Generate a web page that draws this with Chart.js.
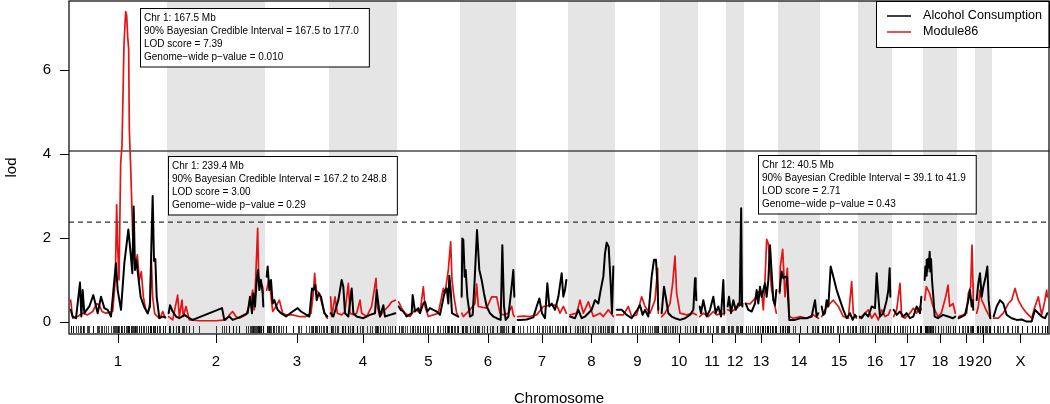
<!DOCTYPE html>
<html>
<head>
<meta charset="utf-8">
<script src="https://cdn.jsdelivr.net/npm/chart.js@4.4.1/dist/chart.umd.min.js"></script>
<style>
  html, body { margin: 0; padding: 0; background: #fff; }
  canvas { display: block; }
</style>
</head>
<body>
<canvas id="lodChart" width="1050" height="404"></canvas>
<script>
const chromosomes = ['1','2','3','4','5','6','7','8','9','10','11','12','13','14','15','16','17','18','19','20','X'];
// length of each chromosome in Mb, gap between chromosomes
const chrLengths = [284,284,182,194,179,158,146,131,125,104,74,44,92,116,104,92,83,92,44,41,161];
const chrGap = 10;

// [position in Mb, LOD] per chromosome
const alcoholLod = [
  [[0,0.29],[6,0.13],[16,0.09],[28,0.94],[32,0.13],[36,0.76],[41,0.21],[48,0.29],[56,0.37],[68,0.64],[81,0.21],[91,0.60],[101,0.33],[111,0.29],[121,0.13],[131,1.0],[136,1.40],[141,0.76],[151,0.29],[161,1.40],[173,2.2],[180,1.63],[185,1.16],[189,2.75],[193,1.24],[197,1.48],[204,1.0],[210,0.6],[220,0.37],[231,0.21],[238,0.37],[242,1.79],[246,3.0],[250,1.45],[254,1.5],[258,0.6],[266,0.09],[276,0.13],[284,0.11]],
  [[0,0.21],[4,0.40],[12,0.25],[22,0.13],[32,0.09],[47,0.17],[62,0.09],[72,0.05],[160,0.33],[167,0.05],[182,0.13],[192,0.05],[212,0.11],[237,0.21],[244,0.60],[250,0.21],[254,0.68],[259,0.37],[264,1.0],[268,1.24],[272,0.76],[277,1.0],[282,0.68],[284,0.37]],
  [[0,1.08],[3,1.32],[8,0.76],[13,1.0],[18,0.44],[23,0.52],[33,0.29],[43,0.21],[58,0.13],[78,0.25],[93,0.33],[103,0.25],[128,0.13],[136,0.80],[140,0.76],[146,0.88],[150,0.52],[156,0.68],[163,0.60],[173,0.21],[182,0.13]],
  [[0,0.21],[8,0.13],[23,0.52],[33,1.0],[38,0.84],[43,0.21],[53,0.13],[63,0.80],[68,0.21],[78,0.13],[98,0.09],[118,0.17],[133,0.21],[138,0.76],[143,0.44],[148,0.13],[158,0.40],[163,0.13],[178,0.17],[194,0.21]],
  [[0,0.37],[6,0.29],[14,0.25],[24,0.13],[39,0.21],[42,0.64],[49,0.25],[59,0.33],[64,0.21],[74,0.44],[79,0.48],[86,0.25],[94,0.33],[104,0.29],[114,0.25],[124,0.17],[139,0.76],[144,0.80],[149,0.44],[152,1.1],[156,0.76],[160,0.21],[169,0.17],[179,0.13]],
  [[0,0.6],[2,1.99],[5,1.95],[9,1.08],[12,1.24],[17,0.60],[25,0.13],[33,0.17],[39,1.0],[46,2.19],[53,1.24],[60,1.0],[67,0.68],[75,0.37],[85,0.21],[95,0.13],[105,0.09],[117,0.05],[122,1.83],[127,0.37],[132,0.05],[140,0.13],[150,0.84],[155,1.24],[158,0.6]],
  [[0,0.05],[7,0.05],[27,0.06],[47,0.11],[57,0.37],[65,0.56],[73,0.21],[82,0.09],[89,0.92],[95,0.37],[102,0.44],[112,0.29],[122,0.60],[132,1.16],[137,0.60],[142,0.76],[146,1.0]],
  [[1,0.13],[16,0.09],[26,0.29],[36,0.09],[46,0.13],[56,0.21],[66,0.29],[76,0.52],[86,0.44],[93,0.76],[101,1.08],[106,1.63],[111,1.89],[117,1.79],[123,0.92],[127,0.2],[131,1.32]],
  [[0,0.29],[15,0.29],[30,0.17],[45,0.09],[55,0.21],[62,0.29],[70,0.40],[78,0.17],[85,0.29],[95,0.13],[105,1.08],[112,1.48],[118,1.48],[122,0.92],[125,0.29]],
  [[0,0.21],[7,0.84],[13,0.56],[20,0.21],[30,0.13],[40,0.09],[55,0.05],[70,0.09],[85,0.17],[95,0.29],[100,1.04],[102,0.84],[104,0.52]],
  [[0,0.37],[4,0.21],[11,0.52],[21,0.13],[31,0.29],[41,0.60],[48,0.21],[56,0.37],[64,0.13],[71,1.0],[74,0.21]],
  [[0,0.37],[4,0.60],[10,0.21],[17,0.52],[24,0.29],[32,0.44],[36,0.40],[40.5,2.71],[43,0.44],[44,0.37]],
  [[0,0.44],[8,0.29],[18,0.25],[28,0.44],[33,0.76],[38,0.44],[43,0.84],[48,0.60],[53,0.76],[58,0.92],[63,0.60],[68,1.0],[73,1.83],[78,1.16],[83,0.52],[88,0.40],[92,0.76]],
  [[0,0.72],[1,0.84],[6,1.20],[11,1.04],[16,1.08],[21,1.08],[24,0.76],[29,0.05],[46,0.05],[61,0.09],[81,0.09],[96,0.13],[106,0.52],[111,0.13],[116,0.21]],
  [[0,0.37],[5,0.17],[10,0.21],[15,0.52],[20,0.37],[27,1.32],[35,1.08],[45,0.76],[55,0.52],[65,0.29],[75,0.09],[85,0.21],[93,0.05],[100,0.17],[104,0.13]],
  [[0,0.13],[6,0.09],[16,0.21],[26,0.13],[36,0.37],[46,0.33],[51,1.16],[56,0.60],[61,0.13],[71,0.21],[81,0.52],[86,0.76],[90,1.28],[92,0.6]],
  [[0,0.29],[9,0.17],[19,0.25],[29,0.13],[39,0.21],[49,0.09],[59,0.13],[69,0.37],[79,0.21],[83,0.6]],
  [[0,1.0],[2,1.32],[4,1.1],[6,1.48],[8,1.2],[10,1.5],[12,1.3],[15,1.67],[17,1.2],[19,1.5],[22,1.0],[26,0.6],[30,0.13],[40,0.09],[55,0.17],[70,0.13],[85,0.09],[92,0.13]],
  [[0,0.09],[9,0.13],[19,0.17],[29,0.52],[34,0.76],[39,0.37],[42,0.52],[44,0.29]],
  [[0,0.52],[5,0.92],[10,1.16],[15,0.60],[20,0.84],[26,1.04],[32,1.32],[36,0.52],[41,0.09]],
  [[0,0.13],[9,0.37],[19,0.52],[29,0.44],[39,0.17],[54,0.09],[69,0.05],[84,0.06],[99,0.01],[114,0.01],[124,0.29],[134,0.21],[144,0.13],[154,0.09],[161,0.21]]
];

const moduleLod = [
  [[0,0.52],[6,0.09],[21,0.13],[36,0.21],[51,0.17],[66,0.25],[78,0.44],[86,0.40],[94,0.25],[106,0.21],[126,0.25],[134,1.0],[138,2.79],[141,1.79],[145,1.0],[150,3.78],[154,4.2],[160,6.6],[165,7.39],[168,7.3],[171,6.8],[174,6.5],[176,4.57],[180,3.7],[186,2.1],[193,1.3],[200,1.6],[206,1.0],[212,1.2],[218,0.6],[225,0.3],[232,0.2],[238,0.5],[242,1.5],[246,0.6],[252,0.2],[260,0.13],[268,0.09],[276,0.25],[284,0.1]],
  [[0,0.13],[12,0.05],[27,0.64],[32,0.13],[40,0.52],[44,0.13],[52,0.37],[62,0.05],[92,0.03],[142,0.03],[172,0.05],[182,0.17],[192,0.25],[202,0.13],[212,0.09],[232,0.17],[247,0.52],[252,0.76],[257,0.29],[262,1.24],[267,2.23],[270,1.08],[274,1.0],[278,0.9],[282,0.84],[284,0.68]],
  [[0,0.76],[6,1.0],[10,0.84],[18,0.25],[28,0.37],[38,0.52],[48,0.21],[58,0.17],[78,0.17],[98,0.13],[118,0.13],[133,0.21],[140,0.68],[144,1.16],[148,0.76],[158,0.68],[168,0.37],[178,0.13],[182,0.09]],
  [[0,0.60],[3,0.13],[13,0.60],[20,0.21],[33,0.17],[43,0.25],[53,0.92],[58,0.21],[68,0.17],[78,0.21],[88,0.52],[93,0.21],[108,0.13],[123,0.37],[136,1.04],[140,0.37],[148,0.13],[158,0.25],[173,0.37],[183,0.48],[194,0.52]],
  [[0,0.48],[9,0.33],[19,0.21],[34,0.13],[44,0.25],[54,0.29],[64,0.21],[74,0.84],[79,0.37],[89,0.13],[104,0.17],[119,0.21],[134,0.80],[139,0.68],[149,1.24],[156,1.91],[160,1.0],[166,0.60],[174,0.21],[179,0.13]],
  [[0,0.21],[5,0.13],[25,0.29],[40,0.44],[45,0.9],[50,0.37],[75,0.33],[90,0.60],[105,0.60],[115,0.21],[125,0.17],[140,0.21],[150,0.37],[155,0.17],[158,0.13]],
  [[0,0.13],[17,0.14],[37,0.13],[57,0.17],[77,0.37],[97,0.40],[117,0.40],[127,0.21],[137,0.37],[146,0.21]],
  [[1,0.17],[21,0.21],[31,0.52],[41,0.21],[56,0.48],[71,0.13],[91,0.21],[101,0.13],[116,0.29],[131,0.13]],
  [[0,0.17],[20,0.17],[35,0.37],[45,0.13],[60,0.17],[75,0.60],[85,0.37],[100,0.21],[115,0.52],[123,1.28],[125,0.21]],
  [[0,0.13],[10,0.21],[25,0.44],[33,0.92],[40,1.57],[45,0.68],[55,0.21],[75,0.17],[95,0.21],[104,0.17]],
  [[0,0.13],[11,0.21],[26,0.13],[41,0.25],[51,0.17],[66,0.21],[74,0.17]],
  [[0,0.29],[12,0.25],[27,0.33],[37,0.40],[44,0.44]],
  [[0,0.44],[13,0.43],[28,0.56],[38,0.72],[48,0.72],[53,0.29],[58,1.0],[63,1.97],[68,1.87],[73,1.24],[78,0.76],[88,0.37],[92,0.21]],
  [[0,0.68],[2,1.32],[9,1.73],[16,0.60],[23,1.28],[29,0.13],[41,0.09],[61,0.13],[81,0.09],[101,0.17],[116,0.09]],
  [[0,0.13],[10,0.29],[25,0.44],[35,0.52],[50,0.37],[65,0.13],[80,0.09],[90,0.96],[95,0.21],[104,0.09]],
  [[0,0.09],[11,0.17],[26,0.29],[36,0.09],[46,0.21],[56,0.05],[66,0.29],[76,0.13],[86,0.17],[92,0.29]],
  [[0,0.13],[9,0.29],[19,0.92],[24,0.13],[34,0.09],[49,0.21],[59,0.33],[69,0.21],[79,0.37],[83,0.29]],
  [[0,0.52],[5,0.84],[15,0.68],[25,0.37],[40,0.13],[50,0.21],[63,0.60],[70,0.88],[75,0.37],[85,0.44],[92,0.21]],
  [[0,0.13],[14,0.17],[24,0.21],[29,0.68],[36,0.84],[40,1.83],[43,0.92],[44,0.37]],
  [[0,0.21],[5,0.37],[10,0.76],[15,0.52],[20,0.44],[28,0.29],[36,0.17],[41,0.09]],
  [[0,0.09],[14,0.09],[29,0.21],[44,0.44],[54,0.52],[64,0.80],[74,0.52],[84,0.37],[99,0.21],[114,0.09],[124,0.37],[134,0.60],[144,0.17],[154,0.52],[159,0.76],[161,0.60]]
];

const seriesNames = ['Alcohol Consumption', 'Module86'];
const thresholds = [4.07, 2.38];   // solid, dashed
const yTicks = [0, 2, 4, 6];

const peakNotes = [
  ['Chr 1: 167.5 Mb', '90% Bayesian Credible Interval = 167.5 to 177.0', 'LOD score = 7.39', 'Genome\u2212wide p\u2212value = 0.010'],
  ['Chr 1: 239.4 Mb', '90% Bayesian Credible Interval = 167.2 to 248.8', 'LOD score = 3.00', 'Genome\u2212wide p\u2212value = 0.29'],
  ['Chr 12: 40.5 Mb', '90% Bayesian Credible Interval = 39.1 to 41.9', 'LOD score = 2.71', 'Genome\u2212wide p\u2212value = 0.43']
];
// where each note box sits (canvas px)
const noteBoxes = [{ left: 140, top: 8 }, { left: 168, top: 156 }, { left: 758, top: 155 }];

const FONT = "'Liberation Sans', Arial, Helvetica, sans-serif";

// cumulative genome positions
const chrStart = [], chrMid = [], bandStart = [];
let cum = 0;
chrLengths.forEach(len => {
  bandStart.push(cum);
  chrStart.push(cum + chrGap / 2);
  chrMid.push(cum + (len + chrGap) / 2);
  cum += len + chrGap;
});
const genomeLength = cum;

function toPoints(series) {
  const pts = [];
  series.forEach((chr, i) => {
    chr.forEach(p => pts.push({ x: chrStart[i] + p[0], y: p[1] }));
    pts.push({ x: chrStart[i] + chrLengths[i] + chrGap / 2, y: null });  // break line between chromosomes
  });
  return pts;
}

// marker positions for the rug
const rugPositions = [];
[alcoholLod, moduleLod].forEach(series => {
  series.forEach((chr, i) => chr.forEach(p => rugPositions.push(chrStart[i] + p[0])));
});

const backgroundPlugin = {
  id: 'background',
  beforeDatasetsDraw(chart) {
    const { ctx, chartArea, scales } = chart;
    const x = scales.x, y = scales.y;
    ctx.save();
    // alternate chromosome bands
    ctx.fillStyle = '#e5e5e5';
    chrLengths.forEach((len, i) => {
      if (i % 2 === 1) {
        const x0 = x.getPixelForValue(bandStart[i]);
        const x1 = x.getPixelForValue(bandStart[i] + len + chrGap);
        ctx.fillRect(x0, chartArea.top, x1 - x0, chartArea.bottom - chartArea.top);
      }
    });
    // rug of markers
    ctx.strokeStyle = 'rgba(0,0,0,0.75)';
    ctx.lineWidth = 1;
    ctx.beginPath();
    rugPositions.forEach(v => {
      const px = Math.round(x.getPixelForValue(v)) + 0.5;
      ctx.moveTo(px, chartArea.bottom - 8);
      ctx.lineTo(px, chartArea.bottom - 1);
    });
    ctx.stroke();
    // significance thresholds
    thresholds.forEach((t, i) => {
      const py = y.getPixelForValue(t);
      ctx.beginPath();
      ctx.strokeStyle = i === 0 ? '#4a4a4a' : '#333';
      ctx.lineWidth = i === 0 ? 1.6 : 1.3;
      ctx.setLineDash(i === 0 ? [] : [5, 4]);
      ctx.moveTo(chartArea.left, py);
      ctx.lineTo(chartArea.right, py);
      ctx.stroke();
    });
    ctx.restore();
  }
};

const overlayPlugin = {
  id: 'overlay',
  afterDraw(chart) {
    const { ctx, chartArea } = chart;
    ctx.save();
    // peak notes
    ctx.font = '10px ' + FONT;
    ctx.textBaseline = 'middle';
    peakNotes.forEach((lines, i) => {
      const b = noteBoxes[i];
      const w = Math.max(...lines.map(s => ctx.measureText(s).width)) + 14;
      const h = 58.5;
      ctx.fillStyle = '#fff';
      ctx.fillRect(b.left, b.top, w, h);
      ctx.strokeStyle = '#000';
      ctx.lineWidth = 1;
      ctx.strokeRect(b.left + 0.5, b.top + 0.5, w, h);
      ctx.fillStyle = '#000';
      lines.forEach((s, j) => ctx.fillText(s, b.left + 4, b.top + 10 + j * 13));
    });
    // legend
    ctx.font = '12.6px ' + FONT;
    const ds = chart.data.datasets;
    const lw = Math.max(...ds.map(d => ctx.measureText(d.label).width)) + 54;
    const lh = 46;
    const lx = chartArea.right - lw, ly = chartArea.top;
    ctx.fillStyle = '#fff';
    ctx.fillRect(lx, ly, lw, lh);
    ctx.strokeStyle = '#000';
    ctx.lineWidth = 1;
    ctx.strokeRect(lx + 0.5, ly + 0.5, lw, lh);
    ds.forEach((d, i) => {
      const yy = ly + 15 + i * 16;
      ctx.beginPath();
      ctx.strokeStyle = d.borderColor;
      ctx.lineWidth = 1.5;
      ctx.moveTo(lx + 11, yy);
      ctx.lineTo(lx + 35, yy);
      ctx.stroke();
      ctx.fillStyle = '#000';
      ctx.fillText(d.label, lx + 47, yy);
    });
    // plot frame
    ctx.strokeStyle = '#000';
    ctx.lineWidth = 1.2;
    ctx.strokeRect(chartArea.left, chartArea.top, chartArea.right - chartArea.left, chartArea.bottom - chartArea.top);
    ctx.restore();
  }
};

const axisFont = { family: FONT, size: 15 };

new Chart(document.getElementById('lodChart'), {
  type: 'line',
  data: {
    datasets: [
      { label: seriesNames[0], data: toPoints(alcoholLod), borderColor: '#000', borderWidth: 2,
        pointRadius: 0, tension: 0, spanGaps: false, borderJoinStyle: 'round', borderCapStyle: 'round' },
      { label: seriesNames[1], data: toPoints(moduleLod), borderColor: 'rgb(228,20,20)', borderWidth: 1.7,
        pointRadius: 0, tension: 0, spanGaps: false, borderJoinStyle: 'round', borderCapStyle: 'round' }
    ]
  },
  options: {
    responsive: false,
    animation: false,
    devicePixelRatio: 1,
    layout: { padding: { top: 1, right: 1, left: 0, bottom: 0 } },
    plugins: { legend: { display: false }, tooltip: { enabled: false } },
    scales: {
      x: {
        type: 'linear', min: 0, max: genomeLength,
        afterBuildTicks: s => { s.ticks = chrMid.map(v => ({ value: v })); },
        afterFit: s => { s.height = 70; s.paddingLeft = 0; s.paddingRight = 0; },
        ticks: { autoSkip: false, maxRotation: 0, minRotation: 0, padding: 10, color: '#000', font: axisFont,
                 callback: (v, i) => chromosomes[i] },
        grid: { drawOnChartArea: false, drawTicks: true, tickLength: 9, color: '#000', lineWidth: 1 },
        border: { display: false },
        title: { display: true, text: 'Chromosome', color: '#000',
                 font: { family: FONT, size: 15, lineHeight: 0.75 }, padding: { top: 0, bottom: 0 } }
      },
      y: {
        min: -0.2857, max: 7.643,
        afterBuildTicks: s => { s.ticks = yTicks.map(v => ({ value: v })); },
        afterFit: s => { s.width = 69; s.paddingTop = 0; s.paddingBottom = 0; },
        ticks: { padding: 9, color: '#000', font: axisFont },
        grid: { drawOnChartArea: false, drawTicks: true, tickLength: 9, color: '#000', lineWidth: 1 },
        border: { display: false },
        title: { display: true, text: 'lod', color: '#000', font: { family: FONT, size: 15 },
                 padding: { top: 3, bottom: 0 } }
      }
    }
  },
  plugins: [backgroundPlugin, overlayPlugin]
});
</script>
</body>
</html>
